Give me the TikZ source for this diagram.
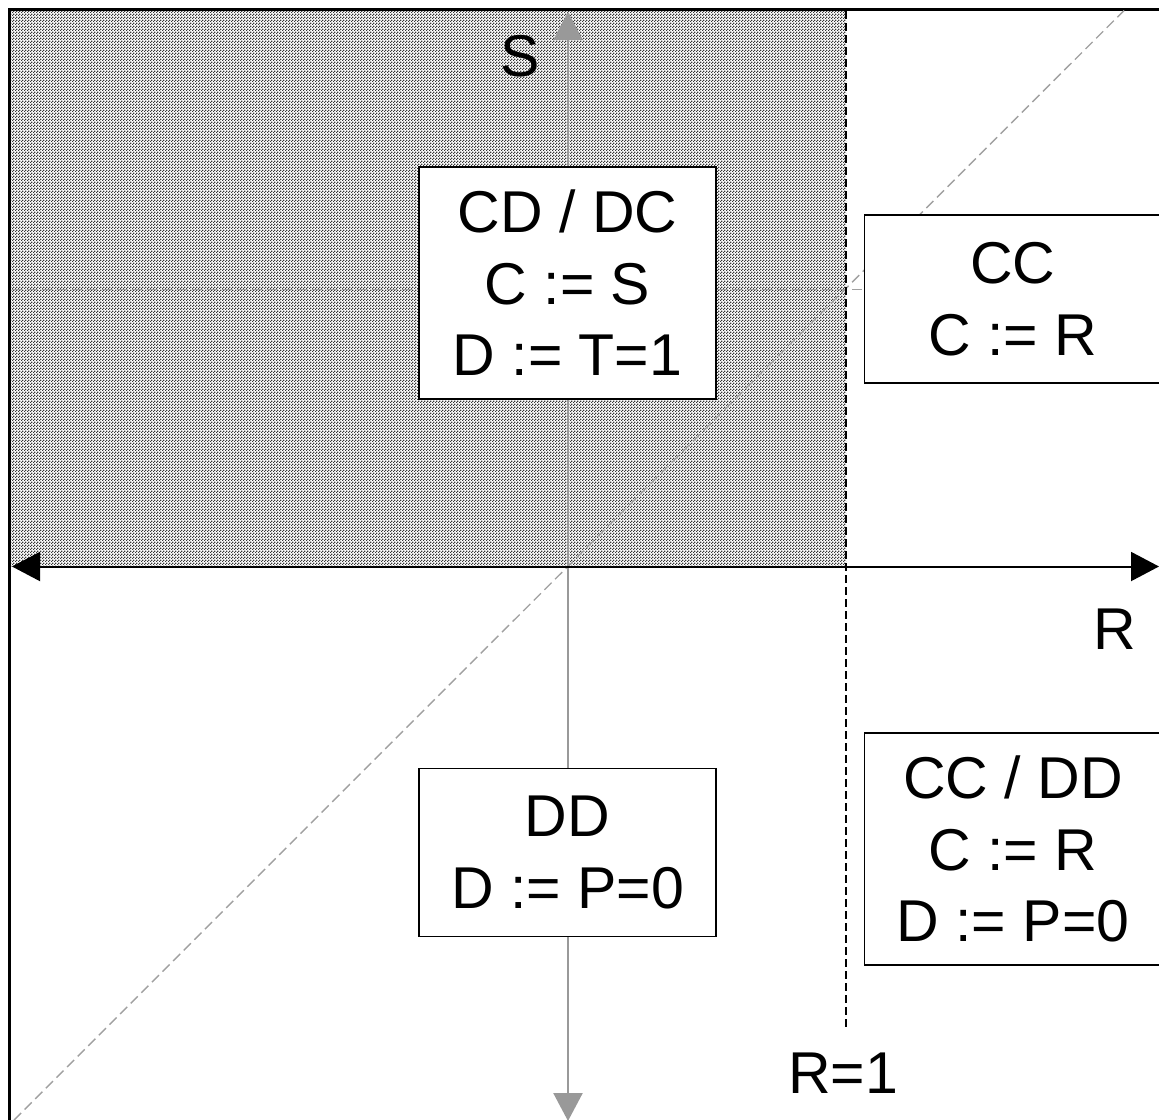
\documentclass[tikz,border=0pt]{standalone}
\usepackage{fontspec}
\setmainfont{Liberation Sans}
\usetikzlibrary{arrows.meta,patterns}
\definecolor{axisgray}{RGB}{153,153,153}
\definecolor{dashgray}{RGB}{160,160,160}
\definecolor{hatchgray}{RGB}{55,55,55}
\pgfdeclarepatternformonly{fineckeck}{\pgfqpoint{0bp}{0bp}}{\pgfqpoint{3bp}{3bp}}{\pgfqpoint{3bp}{3bp}}{%
  \pgfpathrectangle{\pgfqpoint{0bp}{0bp}}{\pgfqpoint{1.5bp}{1.5bp}}%
  \pgfpathrectangle{\pgfqpoint{1.5bp}{1.5bp}}{\pgfqpoint{1.5bp}{1.5bp}}%
  \pgfusepath{fill}}
\tikzset{
  bigtext/.style={font=\fontsize{59bp}{71.5bp}\selectfont, align=center, inner sep=0pt},
  regionbox/.style={bigtext, draw=black, fill=white, line width=1.5bp, minimum width=297bp},
  blackdash/.style={draw=black, line width=1.3bp, dash pattern=on 8bp off 4bp},
  graydash/.style={draw=dashgray, line width=1.4bp, dash pattern=on 10bp off 5bp},
  bigtip/.style={-{Triangle[length=28bp,width=29bp]}},
}
\begin{document}
\begin{tikzpicture}[x=1bp,y=-1bp]
\useasboundingbox (0,0) rectangle (1159,1120);
% shaded region
\fill[white] (11,11) rectangle (846,566.5);
\fill[pattern=fineckeck, pattern color=hatchgray] (11,11) rectangle (846,566.5);
% frame
\draw[line width=3bp] (9.5,1135) -- (9.5,9.5) -- (1175,9.5);
% coordinates
\coordinate (xl) at (12,566.5);
\coordinate (xr) at (1159,566.5);
\coordinate (o) at (568,566.5);
\coordinate (yt) at (568,12);
\coordinate (yb) at (568,1121);
\coordinate (r1t) at (846,11);
\coordinate (r1b) at (846,1028);
\coordinate (sl) at (12,289.5);
\coordinate (sr) at (864,289.5);
\coordinate (dl) at (14,1120);
\coordinate (du) at (1124,10.5);
% dashed lines
\draw[graydash] (dl) -- (du);
\draw[graydash] (sl) -- (sr);
\draw[blackdash] (r1t) -- (r1b);
% vertical axis
\draw[axisgray, line width=2.5bp, bigtip] (o) -- (yt);
\draw[axisgray, line width=2.5bp, bigtip] (o) -- (yb);
% horizontal axis
\draw[black, line width=2bp, bigtip] (o) -- (xl);
\draw[black, line width=2bp, bigtip] (o) -- (xr);
% boxes
\node[regionbox, minimum height=232bp] (cddc) at (567.5,283) {CD / DC\\C := S\\D := T=1};
\node[regionbox, minimum height=168bp] (cc) at (1013,299) {CC\\C := R};
\node[regionbox, minimum height=232bp] (ccdd) at (1013,849) {CC / DD\\C := R\\D := P=0};
\node[regionbox, minimum height=168bp] (dd) at (567.5,852.5) {DD\\D := P=0};
% labels
\node[bigtext] (slab) at (520,56) {S};
\node[bigtext] (rlab) at (1115,629) {R};
\node[bigtext] (r1lab) at (843,1073.5) {R=1};
\end{tikzpicture}
\end{document}
